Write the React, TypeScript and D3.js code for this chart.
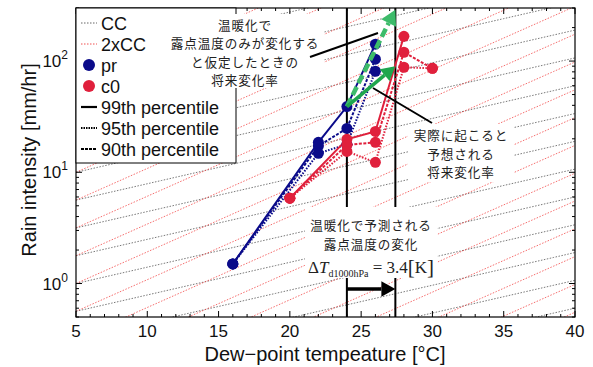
import * as d3 from "d3";

// dew-point bins (°C) and rain intensity percentiles (mm/hr)
const prT = [16, 22, 24, 26];
const pr99 = [1.5, 18.6, 39, 142];
const pr95 = [1.5, 17.2, 24.8, 104];
const pr90 = [1.5, 14.8, 17.8, 81];

const c0T = [20, 24, 26, 28, 30];
const c099 = [5.85, 19.8, 23.3, 167];
const c095 = [5.85, 17.6, 18.6, 120, 86];
const c090 = [5.85, 15.4, 12.3, 88, 86];

// scaling reference lines: value at 5°C = 10^(k/4)
const refOffsets = d3.range(-40, 13).map((k) => k / 4);
const ccRate = 1.07;
const cc2Rate = 1.14;

const dT0 = 24;
const dT1 = 27.4;
const arrowOnlyDew = [39, 290];
const arrowActual = [39, 90];

const xTicks = [5, 10, 15, 20, 25, 30, 35, 40];
const yTicks = [1, 10, 100];
const yTickExp = ["0", "1", "2"];

const noteTop = ["温暖化で", "露点温度のみが変化する", "と仮定したときの", "将来変化率"];
const noteRight = ["実際に起こると", "予想される", "将来変化率"];
const noteBottom = ["温暖化で予測される", "露点温度の変化"];

const legendItems = [
  { label: "CC", kind: "line", color: "#666", dash: "1.5,1.5", w: 1 },
  { label: "2xCC", kind: "line", color: "#f05050", dash: "1.5,1.5", w: 1 },
  { label: "pr", kind: "dot", color: "#0b0b8a" },
  { label: "c0", kind: "dot", color: "#e0203c" },
  { label: "99th percentile", kind: "line", color: "#000", dash: "", w: 2.2 },
  { label: "95th percentile", kind: "line", color: "#000", dash: "1.5,1", w: 2.2 },
  { label: "90th percentile", kind: "line", color: "#000", dash: "3,1", w: 2.2 },
];

const BLUE = "#0b0b8a";
const RED = "#e0203c";
const GREEN = "#1fa64e";
const GREEN_LIGHT = "#3dbb6a";
const SANS = "'Liberation Sans', Arial, sans-serif";
const JP = "'Noto Sans CJK JP', sans-serif";
const SERIF = "'Liberation Serif', 'DejaVu Serif', serif";

function Arrow({ x1, y1, x2, y2, color, width, dash, head }) {
  const ang = Math.atan2(y2 - y1, x2 - x1);
  const bx = x2 - head * Math.cos(ang);
  const by = y2 - head * Math.sin(ang);
  const hw = head * 0.55;
  const p1 = [bx + hw * Math.sin(ang), by - hw * Math.cos(ang)];
  const p2 = [bx - hw * Math.sin(ang), by + hw * Math.cos(ang)];
  return (
    <g>
      <line x1={x1} y1={y1} x2={bx} y2={by} stroke={color} strokeWidth={width} strokeDasharray={dash} />
      <polygon points={`${x2},${y2} ${p1[0]},${p1[1]} ${p2[0]},${p2[1]}`} fill={color} />
    </g>
  );
}

export default function App() {
  const W = 593, H = 367;
  const L = 76, R = 575, T = 8, B = 317;
  const x = d3.scaleLinear().domain([5, 40]).range([L, R]);
  const y = d3.scaleLog().domain([0.5, 300]).range([B, T]);

  const refTs = d3.range(5, 40.01, 0.5);
  const refLine = (off, rate) =>
    d3.line()(refTs.map((t) => [x(t), y(Math.pow(10, off) * Math.pow(rate, t - 5))]));

  const series = [
    { t: prT, v: pr99, c: BLUE, dash: "" },
    { t: prT, v: pr95, c: BLUE, dash: "3,1.5" },
    { t: prT, v: pr90, c: BLUE, dash: "1.5,1.5" },
    { t: c0T, v: c099, c: RED, dash: "" },
    { t: c0T, v: c095, c: RED, dash: "3,1.5" },
    { t: c0T, v: c090, c: RED, dash: "1.5,1.5" },
  ];
  const lineGen = d3.line().x((d) => x(d[0])).y((d) => y(d[1]));

  const minorX = d3.range(5, 41, 1).filter((v) => v % 5 !== 0);
  const minorY = [];
  [0.1, 1, 10, 100].forEach((dec) => {
    for (let m = 2; m <= 9; m++) {
      const v = dec * m;
      if (v >= 0.5 && v <= 300) minorY.push(v);
    }
  });

  return (
    <svg width={W} height={H} style={{ position: "absolute", left: 0, top: 0, background: "#fff" }}>
      <defs>
        <clipPath id="plot">
          <rect x={L} y={T} width={R - L} height={B - T} />
        </clipPath>
      </defs>

      {/* scaling reference lines */}
      <g clipPath="url(#plot)" fill="none">
        {refOffsets.map((o, i) => (
          <path key={"cc" + i} d={refLine(o, ccRate)} stroke="#555" strokeWidth={0.8} strokeDasharray="1.5,1.5" />
        ))}
        {refOffsets.map((o, i) => (
          <path key={"c2" + i} d={refLine(o, cc2Rate)} stroke="#f24848" strokeWidth={0.8} strokeDasharray="1.5,1.5" />
        ))}
      </g>

      {/* warming window lines */}
      <line x1={x(dT0)} x2={x(dT0)} y1={T} y2={B} stroke="#000" strokeWidth={2} />
      <line x1={x(dT1)} x2={x(dT1)} y1={T} y2={B} stroke="#000" strokeWidth={2} />

      {/* data */}
      <g clipPath="url(#plot)">
        {series.map((s, i) => (
          <path
            key={"s" + i}
            d={lineGen(s.v.map((v, j) => [s.t[j], v]))}
            fill="none"
            stroke={s.c}
            strokeWidth={2}
            strokeDasharray={s.dash}
          />
        ))}
        {series.map((s, i) =>
          s.v.map((v, j) => <circle key={`p${i}-${j}`} cx={x(s.t[j])} cy={y(v)} r={5.5} fill={s.c} />)
        )}
      </g>

      {/* green arrows */}
      <Arrow
        x1={x(dT0)} y1={y(arrowOnlyDew[0])} x2={x(dT1)} y2={y(arrowOnlyDew[1])}
        color={GREEN_LIGHT} width={4.5} dash="9,4" head={15}
      />
      <Arrow
        x1={x(dT0)} y1={y(arrowActual[0])} x2={x(dT1)} y2={y(arrowActual[1])}
        color={GREEN} width={3.5} dash="" head={14}
      />

      {/* axes frame & ticks */}
      <rect x={L} y={T} width={R - L} height={B - T} fill="none" stroke="#000" strokeWidth={1.2} />
      <g stroke="#000" strokeWidth={1}>
        {xTicks.map((v) => (
          <g key={"xt" + v}>
            <line x1={x(v)} x2={x(v)} y1={B} y2={B - 6} />
            <line x1={x(v)} x2={x(v)} y1={T} y2={T + 6} />
          </g>
        ))}
        {minorX.map((v) => (
          <g key={"xm" + v}>
            <line x1={x(v)} x2={x(v)} y1={B} y2={B - 3} />
            <line x1={x(v)} x2={x(v)} y1={T} y2={T + 3} />
          </g>
        ))}
        {yTicks.map((v) => (
          <g key={"yt" + v}>
            <line x1={L} x2={L + 6} y1={y(v)} y2={y(v)} />
            <line x1={R} x2={R - 6} y1={y(v)} y2={y(v)} />
          </g>
        ))}
        {minorY.map((v) => (
          <g key={"ym" + v}>
            <line x1={L} x2={L + 3} y1={y(v)} y2={y(v)} />
            <line x1={R} x2={R - 3} y1={y(v)} y2={y(v)} />
          </g>
        ))}
      </g>
      <g fontFamily={SANS} fontSize={17} fill="#111">
        {xTicks.map((v) => (
          <text key={"xl" + v} x={x(v)} y={B + 20} textAnchor="middle">{v}</text>
        ))}
        {yTicks.map((v, i) => (
          <text key={"yl" + v} x={L - 8} y={y(v) + 6} textAnchor="end">
            10<tspan fontSize={12} dy={-8}>{yTickExp[i]}</tspan>
          </text>
        ))}
      </g>
      <text x={325} y={361} textAnchor="middle" fontFamily={SANS} fontSize={20} fill="#111">
        Dew−point tempeature [°C]
      </text>
      <text transform="translate(36,160) rotate(-90)" textAnchor="middle" fontFamily={SANS} fontSize={20} fill="#111">
        Rain intensity [mm/hr]
      </text>

      {/* legend */}
      <rect x={L} y={T} width={160} height={155} fill="#fff" stroke="#000" strokeWidth={1} />
      {legendItems.map((it, i) => {
        const cy = T + 15 + i * 21;
        return (
          <g key={"lg" + i}>
            {it.kind === "line" ? (
              <line x1={L + 5} x2={L + 21} y1={cy} y2={cy} stroke={it.color} strokeWidth={it.w} strokeDasharray={it.dash} />
            ) : (
              <circle cx={L + 13} cy={cy} r={6} fill={it.color} />
            )}
            <text x={L + 25} y={cy + 6.5} fontFamily={SANS} fontSize={18} fill="#111">{it.label}</text>
          </g>
        );
      })}

      {/* annotations */}
      <rect x={162} y={14} width={162} height={74} fill="#fff" />
      <g fontFamily={JP} fontSize={12.6} fill="#222" textAnchor="middle" letterSpacing={0.9}>
        {noteTop.map((s, i) => (
          <text key={"nt" + i} x={245} y={30 + i * 18.3}>{s}</text>
        ))}
      </g>
      <line x1={310} y1={57} x2={378} y2={33} stroke="#000" strokeWidth={2} />

      <line x1={373} y1={88} x2={432} y2={123} stroke="#000" strokeWidth={2} />
      <rect x={408} y={124} width={106} height={58} fill="#fff" />
      <g fontFamily={JP} fontSize={12.6} fill="#222" textAnchor="middle" letterSpacing={0.9}>
        {noteRight.map((s, i) => (
          <text key={"nr" + i} x={461} y={140 + i * 18.5}>{s}</text>
        ))}
      </g>

      <rect x={305} y={207} width={132} height={71} fill="#fff" />
      <g fontFamily={JP} fontSize={12.6} fill="#222" textAnchor="middle" letterSpacing={0.9}>
        {noteBottom.map((s, i) => (
          <text key={"nb" + i} x={371} y={230 + i * 18.5}>{s}</text>
        ))}
      </g>
      <text x={371} y={273} textAnchor="middle" fontFamily={SERIF} fontSize={17} fill="#222">
        Δ<tspan fontStyle="italic">T</tspan>
        <tspan fontSize={10} dy={4}>d1000hPa</tspan>
        <tspan dy={-4}> = 3.4</tspan>
        <tspan fontSize={21} dy={1}>[</tspan>
        <tspan dy={-1}>K</tspan>
        <tspan fontSize={21} dy={1}>]</tspan>
      </text>
      <Arrow x1={x(dT0)} y1={289} x2={x(dT1)} y2={289} color="#000" width={3.5} dash="" head={14} />
    </svg>
  );
}
